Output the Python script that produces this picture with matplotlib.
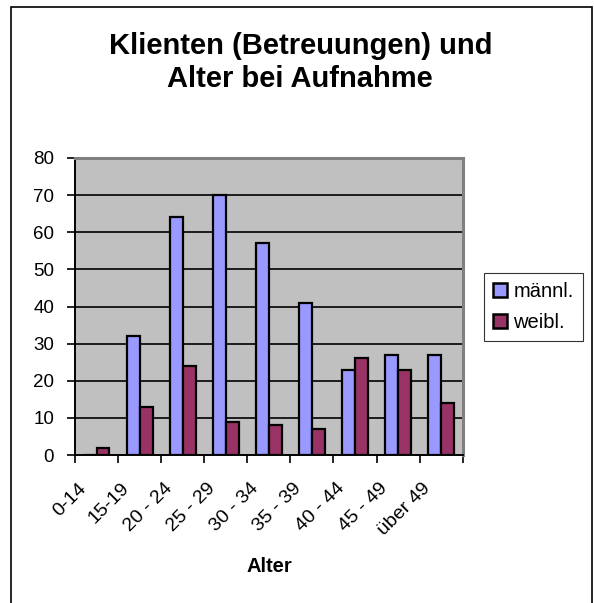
import numpy as np
import matplotlib.pyplot as plt
import matplotlib.patches as mpatches
from matplotlib.transforms import ScaledTranslation

plt.rcParams['font.family'] = ['Liberation Sans', 'DejaVu Sans']

categories = ['0-14', '15-19', '20 - 24', '25 - 29', '30 - 34', '35 - 39', '40 - 44', '45 - 49', 'über 49']
maennl = [0, 32, 64, 70, 57, 41, 23, 27, 27]
weibl = [2, 13, 24, 9, 8, 7, 26, 23, 14]
yticks = [0, 10, 20, 30, 40, 50, 60, 70, 80]

fig = plt.figure(figsize=(5.94, 6.03), dpi=100)
ax = fig.add_axes([75/594, 1 - 455/603, (462.7 - 75)/594, (455 - 158)/603])
ax.set_facecolor('#C0C0C0')

x = np.arange(len(categories))
w = 0.3
ax.bar(x - w/2, maennl, w, color='#9999FF', edgecolor='black', linewidth=1.6, label='männl.', zorder=3)
ax.bar(x + w/2, weibl, w, color='#993366', edgecolor='black', linewidth=1.6, label='weibl.', zorder=3)

ax.set_xlim(-0.5, len(categories) - 0.5)
ax.set_ylim(0, 80)
ax.set_yticks(yticks)
ax.tick_params(axis='y', length=6, width=1.2, pad=9, labelsize=13.5)
for v in yticks[1:-1]:
    ax.axhline(v, color='black', linewidth=1.2, zorder=1)

# ticks on category boundaries, labels at the centres
ax.set_xticks(np.arange(len(categories) + 1) - 0.5)
ax.set_xticklabels([])
ax.tick_params(axis='x', which='major', length=6, width=1.2)
ax.set_xticks(x, minor=True)
ax.set_xticklabels(categories, minor=True, rotation=45, ha='right', va='top')
ax.tick_params(axis='x', which='minor', length=0, pad=18, labelsize=14)
off = ScaledTranslation(-7/100, 0, fig.dpi_scale_trans)
for lab in ax.get_xticklabels(minor=True):
    lab.set_transform(lab.get_transform() + off)

for s in ['top', 'right']:
    ax.spines[s].set_color('#808080')
    ax.spines[s].set_linewidth(2.2)
for s in ['left', 'bottom']:
    ax.spines[s].set_color('black')
    ax.spines[s].set_linewidth(1.4)

fig.text(269/594, 1 - 572.3/603, 'Alter', ha='center', va='baseline', fontsize=14.5, fontweight='bold')

fig.text(301/594, 1 - 54.3/603, 'Klienten (Betreuungen) und', ha='center', va='baseline',
         fontsize=21, fontweight='bold')
fig.text(300/594, 1 - 86.7/603, 'Alter bei Aufnahme', ha='center', va='baseline',
         fontsize=21, fontweight='bold')

leg = ax.legend(loc='center left', bbox_to_anchor=(484/594, 1 - 307/603), bbox_transform=fig.transFigure,
                fontsize=14.5, frameon=True, fancybox=False, edgecolor='black', borderpad=0.45,
                handlelength=0.7, handleheight=0.7, handletextpad=0.3, labelspacing=0.6, borderaxespad=0)
leg.get_frame().set_linewidth(0.8)
for h in leg.legend_handles:
    h.set_linewidth(1.8)

fig.patches.append(mpatches.Rectangle((11/594, -0.02), (592 - 11)/594, 1.02 - 7/603, fill=False,
                                      edgecolor='black', linewidth=1.2, transform=fig.transFigure))

fig.savefig('out.png', dpi=100)
